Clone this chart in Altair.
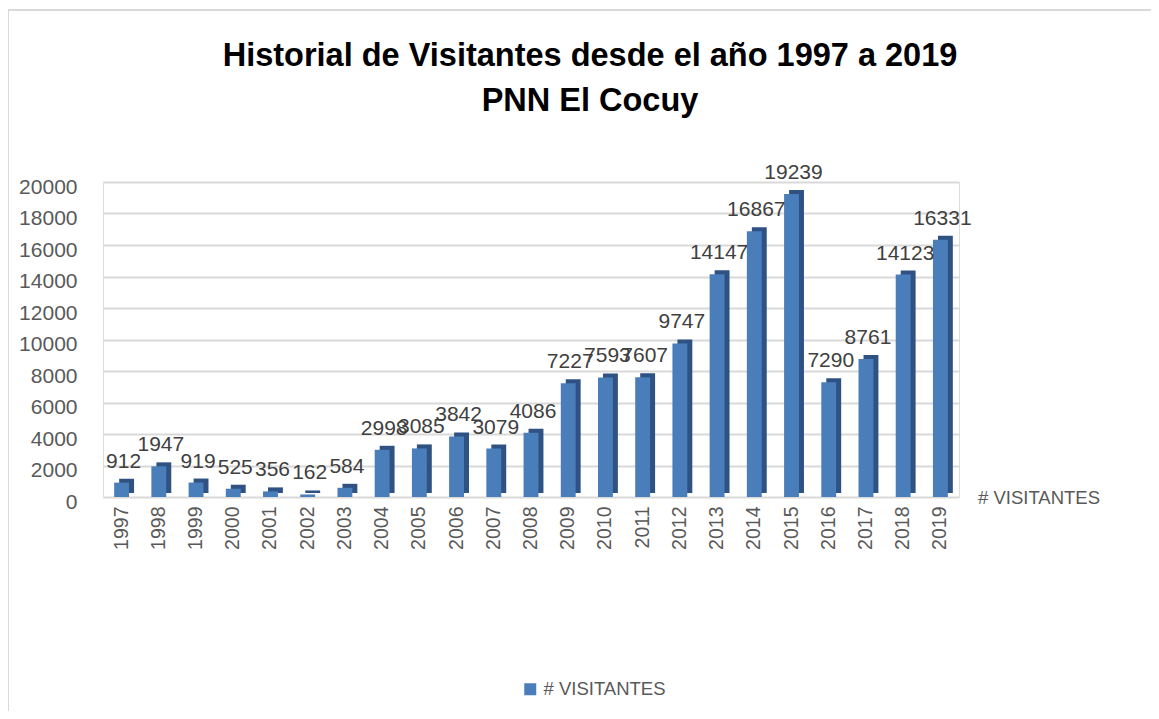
import altair as alt
import pandas as pd

years = [str(y) for y in range(1997, 2020)]
visitantes = [912, 1947, 919, 525, 356, 162, 584, 2998, 3085, 3842, 3079, 4086,
              7227, 7593, 7607, 9747, 14147, 16867, 19239, 7290, 8761, 14123, 16331]
serie = "# VISITANTES"
title_lines = ["Historial de Visitantes desde el año 1997 a 2019", "PNN El Cocuy"]

df = pd.DataFrame({"year": years, "value": visitantes, "serie": [serie] * len(years)})

FONT = "Liberation Sans"
W, H = 856, 315

x_enc = alt.X("year:O", sort=years, title=None,
              scale=alt.Scale(paddingInner=0.6, paddingOuter=0.3),
              axis=alt.Axis(labelAngle=-90, labelAlign="right", labelBaseline="middle",
                            labelFontSize=19.5, labelColor="#595959", labelPadding=9,
                            domain=False, ticks=False, labelFont=FONT))
y_enc = alt.Y("value:Q", title=None,
              scale=alt.Scale(domain=[0, 20000], nice=False),
              axis=alt.Axis(values=list(range(0, 20001, 2000)), format="d",
                            labelFontSize=21, labelColor="#595959", labelPadding=26,
                            labelOffset=5, domain=False, ticks=False,
                            gridColor="#d9d9d9", gridWidth=2, labelFont=FONT))

base = alt.Chart(df)

side = base.mark_bar(color="#2f5283", xOffset=5, yOffset=-4).encode(x=x_enc, y=y_enc)
front = base.mark_bar().encode(
    x=x_enc, y=y_enc,
    color=alt.Color("serie:N", scale=alt.Scale(domain=[serie], range=["#4a7ebb"]),
                    legend=alt.Legend(title=None, orient="none", legendX=418, legendY=498,
                                      symbolType="square", symbolSize=144,
                                      symbolStrokeWidth=0, labelFontSize=18.5,
                                      labelColor="#595959", labelFont=FONT, padding=0,
                                      labelOffset=4)))
labels = base.mark_text(fontSize=21, color="#404040", baseline="alphabetic",
                        dy=-15, dx=2, font=FONT).encode(x=x_enc, y=y_enc, text="value:Q")

series_label = alt.Chart(pd.DataFrame({"t": [serie]})).mark_text(
    fontSize=18.5, color="#595959", align="left", baseline="middle", font=FONT
).encode(x=alt.value(875), y=alt.value(316), text="t:N")

title_df = pd.DataFrame({"t": title_lines, "yy": [-126, -81]})
title = alt.Chart(title_df).mark_text(
    fontSize=32.5, fontWeight="bold", color="#000000", align="center",
    baseline="middle", font=FONT
).encode(x=alt.value(487), y=alt.Y("yy:Q", scale=None), text="t:N")

frame_top = alt.Chart(pd.DataFrame({"a": [0]})).mark_rule(color="#d9d9d9", strokeWidth=2).encode(
    x=alt.value(-95), x2=alt.value(1060), y=alt.value(-172))
frame_left = alt.Chart(pd.DataFrame({"a": [0]})).mark_rule(color="#d9d9d9", strokeWidth=2).encode(
    x=alt.value(-95), y=alt.value(-172), y2=alt.value(540))

chart = alt.layer(frame_top, frame_left, side, front, labels, series_label, title).properties(
    width=W, height=H,
    autosize=alt.AutoSizeParams(type="none"),
    padding={"left": 95, "top": 174, "right": 192, "bottom": 214},
).configure_view(stroke=None).configure(background="white")

chart.save("out.html", embed_options={"renderer": "svg", "actions": False})
